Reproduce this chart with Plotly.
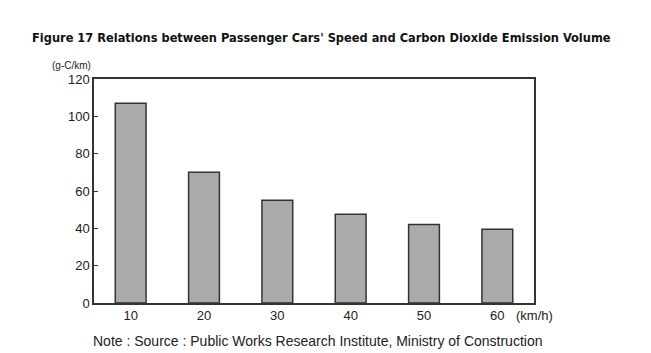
import plotly.graph_objects as go

speeds = ["10", "20", "30", "40", "50", "60"]
emissions = [107, 70, 55, 47.5, 42, 39.5]
y_ticks = [0, 20, 40, 60, 80, 100, 120]

font_main = "DejaVu Sans Condensed, Liberation Sans Narrow, sans-serif"
font_tick = "Liberation Sans, Arial, sans-serif"

fig = go.Figure()
fig.add_trace(go.Bar(
    x=speeds, y=emissions, width=0.42,
    marker=dict(color="#ababab", line=dict(color="#333333", width=1.5)),
))

fig.update_layout(
    width=651, height=353,
    margin=dict(l=94, r=117, t=79, b=50),
    paper_bgcolor="white", plot_bgcolor="white",
    showlegend=False,
    font=dict(family=font_tick, color="#222222", size=13),
)
fig.update_xaxes(
    type="category", showline=True, linecolor="#333333", linewidth=1.5, mirror=True,
    ticks="", showgrid=False, tickfont=dict(size=13, family=font_tick),
)
fig.update_yaxes(
    range=[0, 120], tickvals=y_ticks, showline=True, linecolor="#333333", linewidth=1.5,
    mirror=True, ticks="inside", ticklen=4, tickcolor="#333333", showgrid=False,
    zeroline=False, tickfont=dict(size=13, family=font_tick),
)

fig.add_annotation(
    text="<b>Figure 17 Relations between Passenger Cars' Speed and Carbon Dioxide Emission Volume</b>",
    xref="paper", yref="paper", x=(30 - 94) / 440, y=1 + (79 - 37) / 224,
    xanchor="left", yanchor="middle", showarrow=False,
    font=dict(size=12.7, family=font_main, color="#111111"),
)
fig.add_annotation(
    text="(g-C/km)", xref="paper", yref="paper", x=(50 - 94) / 440, y=1 + (79 - 65) / 224,
    xanchor="left", yanchor="middle", showarrow=False,
    font=dict(size=10, family=font_tick, color="#222222"),
)
fig.add_annotation(
    text="(km/h)", xref="paper", yref="paper", x=(514 - 94) / 440, y=-(315 - 303) / 224,
    xanchor="left", yanchor="middle", showarrow=False,
    font=dict(size=13, family=font_tick, color="#222222"),
)
fig.add_annotation(
    text="Note : Source : Public Works Research Institute, Ministry of Construction",
    xref="paper", yref="paper", x=(91 - 94) / 440, y=-(341 - 303) / 224,
    xanchor="left", yanchor="middle", showarrow=False,
    font=dict(size=14, family=font_tick, color="#222222"),
)

fig.write_html("out.html")
